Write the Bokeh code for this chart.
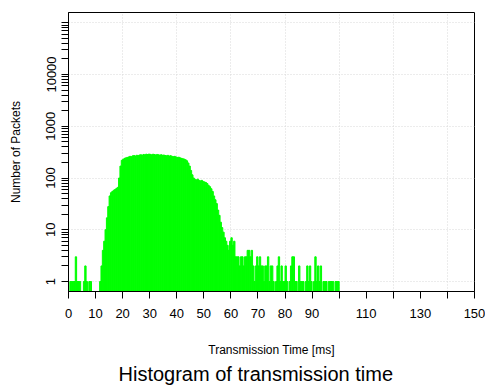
import numpy as np
from bokeh.plotting import figure
from bokeh.models import ColumnDataSource, FixedTicker
from bokeh.embed import file_html
from bokeh.resources import INLINE

# Histogram of transmission time, 0.5 ms bins from 0 to 100 ms
bin_width_ms = 0.5
bin_start_ms = 0.0
counts_00_10 = [0, 1, 1, 1, 1, 3, 1, 1, 1, 0, 0, 1, 2, 1, 0, 1, 1, 0, 0, 0]
counts_10_20 = [0, 0, 0, 1, 2, 4, 6, 10, 17, 28, 45, 52, 55, 58, 60, 63, 66, 100, 170, 220]
counts_20_30 = [230, 240, 245, 250, 255, 262, 258, 268, 272, 265, 275, 270, 278, 282, 275, 285, 280, 288, 283, 290]
counts_30_40 = [286, 280, 288, 284, 279, 285, 281, 276, 282, 275, 278, 272, 268, 274, 265, 270, 262, 258, 262, 255]
counts_40_50 = [250, 252, 245, 240, 236, 232, 225, 215, 195, 170, 140, 115, 100, 94, 92, 95, 90, 88, 90, 86]
counts_50_60 = [84, 82, 78, 72, 68, 62, 55, 45, 38, 32, 24, 19, 14, 11, 9, 7, 6, 5, 4, 6]
counts_60_70 = [7, 5, 6, 3, 3, 3, 2, 3, 3, 2, 3, 3, 4, 4, 3, 4, 2, 1, 2, 3]
counts_70_80 = [2, 3, 2, 2, 1, 2, 2, 3, 1, 2, 2, 1, 0, 1, 2, 3, 1, 2, 1, 1]
counts_80_90 = [2, 1, 0, 1, 2, 3, 3, 1, 1, 0, 2, 1, 1, 1, 0, 1, 2, 1, 2, 1]
counts_90_100 = [0, 1, 3, 1, 2, 1, 2, 0, 1, 1, 1, 0, 1, 1, 1, 1, 0, 1, 1, 1]

x_ticks = [0, 10, 20, 30, 40, 50, 60, 70, 80, 90, 100, 110, 120, 130, 140, 150]
x_tick_labels = ["0", "10", "20", "30", "40", "50", "60", "70", "80", "90", "", "110", "", "130", "", "150"]
y_ticks = [1, 10, 100, 1000, 10000, 100000]
y_tick_labels = ["1", "10", "100", "1000", "10000", ""]

counts = np.array(counts_00_10 + counts_10_20 + counts_20_30 + counts_30_40 + counts_40_50
                  + counts_50_60 + counts_60_70 + counts_70_80 + counts_80_90 + counts_90_100, dtype=float)
left = bin_start_ms + bin_width_ms * np.arange(len(counts))
right = left + bin_width_ms
mask = counts > 0

y_bottom = 10 ** -0.193
y_top = 10 ** 5.198

src = ColumnDataSource(dict(left=left[mask], right=right[mask], top=counts[mask],
                            bottom=np.full(mask.sum(), y_bottom * 0.5)))

p = figure(width=485, height=385, output_backend="svg", toolbar_location=None,
           x_range=(0, 150), y_range=(y_bottom, y_top), y_axis_type="log",
           min_border_left=68, min_border_right=11, min_border_top=12, min_border_bottom=94,
           title="Histogram of transmission time", title_location="below")

p.quad(left="left", right="right", top="top", bottom="bottom", source=src,
       fill_color="#00ff00", line_color="#00ff00", line_width=1)

p.outline_line_color = "black"
p.outline_line_width = 1
p.background_fill_color = "white"
p.border_fill_color = "white"

FONT = "Liberation Sans"
BLACK = "#000000"

# x axis
xa = p.xaxis[0]
xa.ticker = FixedTicker(ticks=x_ticks, minor_ticks=[])
xa.major_label_overrides = {t: l for t, l in zip(x_ticks, x_tick_labels)}
xa.axis_label = "Transmission Time [ms]"
xa.axis_label_text_font = FONT
xa.axis_label_text_font_size = "12px"
xa.axis_label_text_font_style = "normal"
xa.axis_label_text_color = BLACK
xa.axis_label_standoff = 22
xa.major_label_text_font = FONT
xa.major_label_text_font_size = "13px"
xa.major_label_text_color = BLACK
xa.major_label_standoff = 10
xa.major_tick_out = 7
xa.major_tick_in = 0
xa.minor_tick_out = 0
xa.axis_line_color = BLACK
xa.major_tick_line_color = BLACK

# y axis
minor = [m * 10 ** d for d in range(0, 5) for m in range(2, 10)]
ya = p.yaxis[0]
ya.ticker = FixedTicker(ticks=y_ticks, minor_ticks=minor)
ya.major_label_overrides = {t: l for t, l in zip(y_ticks, y_tick_labels)}
ya.major_label_orientation = "vertical"
ya.axis_label = "Number of Packets"
ya.axis_label_text_font = FONT
ya.axis_label_text_font_size = "12px"
ya.axis_label_text_font_style = "normal"
ya.axis_label_text_color = BLACK
ya.axis_label_standoff = 21
ya.major_label_text_font = FONT
ya.major_label_text_font_size = "13px"
ya.major_label_text_color = BLACK
ya.major_label_standoff = 6
ya.major_tick_out = 7
ya.major_tick_in = 0
ya.minor_tick_out = 7
ya.minor_tick_in = 0
ya.axis_line_color = BLACK
ya.major_tick_line_color = BLACK
ya.minor_tick_line_color = BLACK

# grid
p.xgrid.ticker = FixedTicker(ticks=[20, 40, 60, 80, 100, 120, 140])
p.ygrid.ticker = FixedTicker(ticks=y_ticks)
for g in (p.xgrid[0], p.ygrid[0]):
    g.grid_line_color = "#d8d8d8"
    g.grid_line_dash = "1 2"
    g.grid_line_width = 1

p.title.text_font = FONT
p.title.text_font_size = "20px"
p.title.text_font_style = "normal"
p.title.text_color = BLACK
p.title.align = "left"
p.title.offset = 50
p.title.standoff = 2

open("out.html", "w").write(file_html(p, INLINE))
